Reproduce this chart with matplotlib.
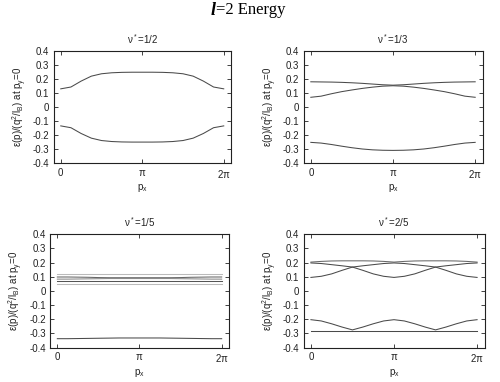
import numpy as np
import matplotlib
matplotlib.use("Agg")
import matplotlib.pyplot as plt

plt.rcParams['font.family'] = ['Liberation Sans', 'DejaVu Sans']
plt.rcParams['mathtext.fontset'] = 'dejavusans'
plt.rcParams['mathtext.default'] = 'regular'

# sample positions in units of pi
px_pi = [0, 0.125, 0.25, 0.375, 0.5, 0.625, 0.75, 0.875, 1.0,
         1.125, 1.25, 1.375, 1.5, 1.625, 1.75, 1.875, 2.0]

# nu* = 1/2
e12_up = [0.13, 0.143, 0.185, 0.22, 0.237, 0.244, 0.247, 0.248, 0.248,
          0.248, 0.247, 0.244, 0.237, 0.22, 0.185, 0.143, 0.13]
e12_lo = [-0.133, -0.146, -0.187, -0.22, -0.237, -0.244, -0.247, -0.248, -0.248,
          -0.248, -0.247, -0.244, -0.237, -0.22, -0.187, -0.146, -0.133]

# nu* = 1/3
e13_a = [0.18, 0.179, 0.178, 0.176, 0.173, 0.169, 0.164, 0.159, 0.156,
         0.159, 0.164, 0.169, 0.173, 0.176, 0.178, 0.179, 0.18]
e13_b = [0.07, 0.078, 0.095, 0.11, 0.122, 0.133, 0.142, 0.149, 0.152,
         0.149, 0.142, 0.133, 0.122, 0.11, 0.095, 0.078, 0.07]
e13_c = [-0.25, -0.255, -0.265, -0.277, -0.288, -0.297, -0.303, -0.306, -0.307,
         -0.306, -0.303, -0.297, -0.288, -0.277, -0.265, -0.255, -0.25]

# nu* = 1/5
e15_1 = [0.116] * 17
e15_2 = [0.098, 0.098, 0.097, 0.096, 0.094, 0.093, 0.093, 0.093, 0.093,
         0.093, 0.093, 0.093, 0.094, 0.096, 0.097, 0.098, 0.098]
e15_3 = [0.083, 0.083, 0.084, 0.085, 0.086, 0.087, 0.087, 0.087, 0.087,
         0.087, 0.087, 0.087, 0.086, 0.085, 0.084, 0.083, 0.083]
e15_4 = [0.071] * 17
e15_5 = [0.052] * 17
e15_6 = [-0.337, -0.337, -0.336, -0.335, -0.334, -0.333, -0.332, -0.332, -0.332,
         -0.332, -0.332, -0.333, -0.334, -0.335, -0.336, -0.337, -0.337]

# nu* = 2/5
e25_t = [0.203, 0.208, 0.211, 0.212, 0.212, 0.212, 0.211, 0.208, 0.203,
         0.208, 0.211, 0.212, 0.212, 0.212, 0.211, 0.208, 0.203]
e25_a = [0.197, 0.193, 0.185, 0.177, 0.168, 0.177, 0.185, 0.193, 0.197,
         0.193, 0.185, 0.177, 0.168, 0.177, 0.185, 0.193, 0.197]
e25_b = [0.095, 0.103, 0.12, 0.145, 0.168, 0.145, 0.12, 0.103, 0.095,
         0.103, 0.12, 0.145, 0.168, 0.145, 0.12, 0.103, 0.095]
e25_c = [-0.203, -0.212, -0.232, -0.255, -0.275, -0.255, -0.232, -0.212, -0.203,
         -0.212, -0.232, -0.255, -0.275, -0.255, -0.232, -0.212, -0.203]
e25_d = [-0.283] * 17

titles = [r'$\nu^*$=1/2', r'$\nu^*$=1/3', r'$\nu^*$=1/5', r'$\nu^*$=2/5']
ytick_vals = [0.4, 0.3, 0.2, 0.1, 0, -0.1, -0.2, -0.3, -0.4]
ytick_labels = ['0.4', '0.3', '0.2', '0.1', '0', '-0.1', '-0.2', '-0.3', '-0.4']
xtick_labels = ['0', r'$\pi$', r'2$\pi$']

panels = [
    ([e12_up, e12_lo], ['#4a4a4a', '#4a4a4a']),
    ([e13_a, e13_b, e13_c], ['#4a4a4a'] * 3),
    ([e15_1, e15_2, e15_3, e15_4, e15_5, e15_6],
     ['#bbbbbb', '#666666', '#888888', '#555555', '#bbbbbb', '#4a4a4a']),
    ([e25_t, e25_a, e25_b, e25_c, e25_d], ['#666666', '#4a4a4a', '#4a4a4a', '#4a4a4a', '#4a4a4a']),
]

rects = [
    [0.107, 0.572, 0.355, 0.295],
    [0.607, 0.572, 0.358, 0.295],
    [0.100, 0.090, 0.358, 0.297],
    [0.607, 0.090, 0.362, 0.297],
]

fig = plt.figure(figsize=(5.0, 3.82), dpi=100)
x = np.array(px_pi) * np.pi

for (series, colors), rect, title in zip(panels, rects, titles):
    ax = fig.add_axes(rect)
    for s, c in zip(series, colors):
        ax.plot(x, s, color=c, lw=0.75)
    ax.set_xlim(-0.28, 2 * np.pi + 0.28)
    ax.set_ylim(-0.4, 0.4)
    ax.set_yticks(ytick_vals)
    ax.set_yticklabels(ytick_labels)
    ax.set_xticks([0, np.pi, 2 * np.pi])
    ax.set_xticklabels(xtick_labels)
    ax.tick_params(direction='in', length=3, width=0.6, labelsize=7,
                   top=True, right=True, colors='#222222', pad=3)
    for sp in ax.spines.values():
        sp.set_linewidth(0.8)
        sp.set_color('#222222')
    ax.set_title(title, fontsize=7, pad=5, color='#222222')
    ax.set_xlabel(r'p$_x$', fontsize=7, labelpad=2, color='#222222')
    ax.set_ylabel(r'$\epsilon$(p)/(q$^2$/l$_B$) at p$_y$=0', fontsize=7,
                  labelpad=3, color='#222222')

fig.text(0.432, 0.995, 'l', fontsize=13, fontweight='bold', fontstyle='italic',
         family='Liberation Serif', ha='right', va='top')
fig.text(0.432, 0.995, '=2 Energy', fontsize=12, family='Liberation Serif',
         ha='left', va='top')

fig.savefig('out.png', dpi=100)
